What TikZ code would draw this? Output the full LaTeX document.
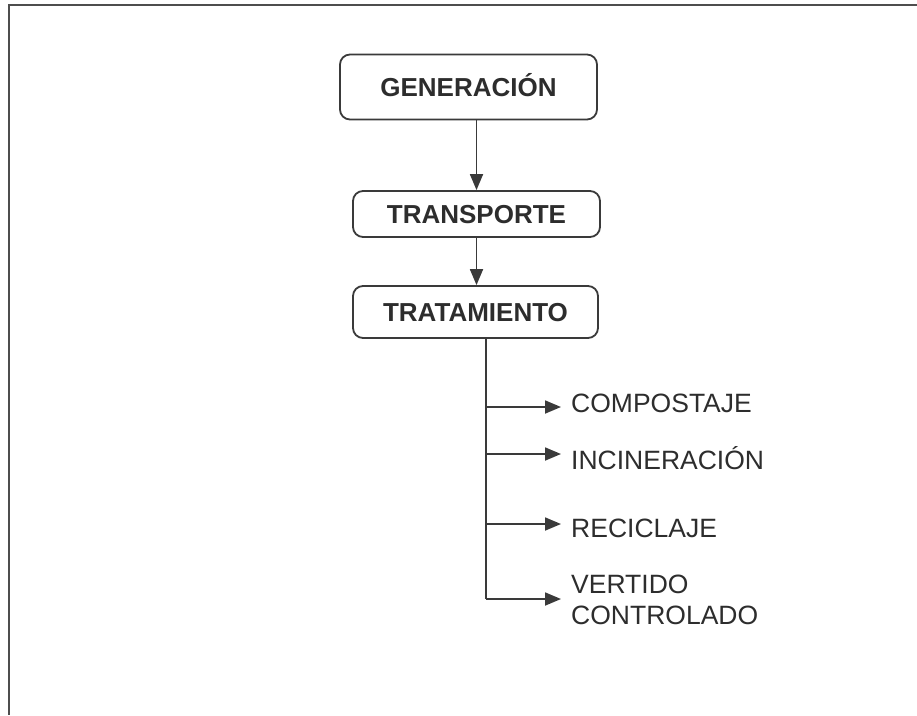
\documentclass[tikz,border=0pt]{standalone}
\usepackage{fontspec}
\setmainfont{Liberation Sans}
\usetikzlibrary{arrows.meta}
\definecolor{lineC}{RGB}{58,58,58}
\definecolor{textC}{RGB}{45,45,45}
\tikzset{
  stagebox/.style={draw=lineC, line width=1.8pt, rounded corners=10pt, inner sep=0pt,
    font=\fontsize{26}{31}\selectfont\bfseries, text=textC, text height=19pt, text depth=0pt},
  optlabel/.style={inner sep=0pt, font=\fontsize{26.5}{31}\selectfont, text=textC},
  flow/.style={draw=lineC, line width=1.8pt, -{Triangle[length=16pt,width=13pt]}},
  trunk/.style={draw=lineC, line width=1.8pt},
}
\begin{document}
\begin{tikzpicture}[x=1pt,y=-1pt]
\useasboundingbox (0,0) rectangle (917,715);
\draw[color=lineC!90, line width=2.5pt] (917,5) -- (9,5) -- (9,715);

\node[stagebox, minimum width=257pt, minimum height=65pt] (gen) at (468.5,87) {GENERACIÓN};
\node[stagebox, minimum width=247pt, minimum height=46pt] (trans) at (476.5,214) {TRANSPORTE};
\node[stagebox, minimum width=245pt, minimum height=52pt] (trat) at (475.5,312) {TRATAMIENTO};

\draw[flow] (trans.north |- gen.south) -- (trans.north);
\draw[flow] (trans.south) -- (trans.south |- trat.north);

\coordinate (top) at (486,338);
\coordinate (b1) at (486,407);
\coordinate (b2) at (486,454);
\coordinate (b3) at (486,524);
\coordinate (b4) at (486,599);
\draw[trunk] (top) -- (b4);

\node[optlabel, anchor=base west] (comp) at (571,412) {COMPOSTAJE};
\node[optlabel, anchor=base west] (inc) at (571,469) {INCINERACIÓN};
\node[optlabel, anchor=base west] (rec) at (571,537) {RECICLAJE};
\node[optlabel, anchor=west, align=left] (vert) at (571,600) {VERTIDO\\CONTROLADO};

\draw[flow, shorten >=10pt] (b1) -- (b1 -| comp.west);
\draw[flow, shorten >=10pt] (b2) -- (b2 -| inc.west);
\draw[flow, shorten >=10pt] (b3) -- (b3 -| rec.west);
\draw[flow, shorten >=10pt] (b4) -- (b4 -| vert.west);
\end{tikzpicture}
\end{document}
